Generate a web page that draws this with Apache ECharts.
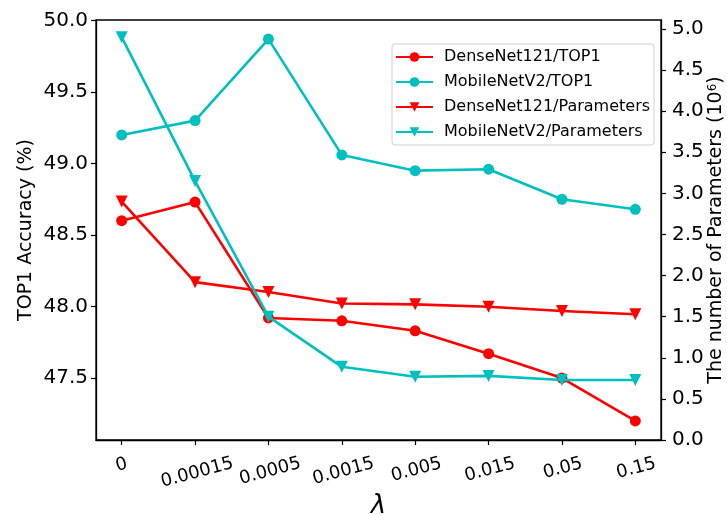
<!DOCTYPE html>
<html>
<head>
<meta charset="utf-8">
<script src="https://cdn.jsdelivr.net/npm/echarts@6/dist/echarts.min.js"></script>
<style>html,body{margin:0;padding:0;background:#fff}#c{width:727px;height:515px}</style>
</head>
<body>
<div id="c"></div>
<script>
const lambdas = ['0', '0.00015', '0.0005', '0.0015', '0.005', '0.015', '0.05', '0.15'];
const denseTop1 = [48.60, 48.73, 47.92, 47.90, 47.83, 47.67, 47.50, 47.20];
const mobileTop1 = [49.20, 49.30, 49.87, 49.06, 48.95, 48.96, 48.75, 48.68];
const denseParams = [2.90, 1.92, 1.80, 1.66, 1.65, 1.62, 1.57, 1.53];
const mobileParams = [4.90, 3.15, 1.50, 0.89, 0.77, 0.78, 0.73, 0.73];
const accTicks = [47.5, 48.0, 48.5, 49.0, 49.5, 50.0];
const paramTicks = [0, 0.5, 1.0, 1.5, 2.0, 2.5, 3.0, 3.5, 4.0, 4.5, 5.0];

const FONT = 'DejaVu Sans';
const RED = '#ff0000', CYAN = '#00bfbf';
const xIdx = lambdas.map((_, i) => i);
const XFS = 18;

// per-label top padding so rotated labels hang from a common top line (like matplotlib)
const cv = document.createElement('canvas').getContext('2d');
cv.font = XFS + 'px "' + FONT + '"';
const widths = lambdas.map(s => cv.measureText(s).width);
const minW = Math.min.apply(null, widths);
const rich = {};
lambdas.forEach((s, i) => {
  rich['l' + i] = {fontFamily: FONT, fontSize: XFS, color: '#000',
    padding: [Math.round((widths[i] - minW) * Math.sin(15 * Math.PI / 180)), 0, 0, 0]};
});

const pair = arr => arr.map((v, i) => [xIdx[i], v]);
const lineSeries = (name, data, color, symbol, yAxisIndex) => ({
  name, type: 'line', data: pair(data), yAxisIndex,
  symbol, symbolSize: symbol === 'circle' ? 11 : 12,
  symbolRotate: symbol === 'triangle' ? 180 : 0,
  lineStyle: {color, width: 2.6}, itemStyle: {color},
  emphasis: {disabled: true}, animation: false, z: yAxisIndex === 1 ? 3 : 2
});

const chart = echarts.init(document.getElementById('c'), null, {renderer: 'canvas'});
chart.setOption({
  animation: false,
  backgroundColor: '#fff',
  grid: {left: 96, right: 66, top: 20, bottom: 75, show: true, borderColor: '#000', borderWidth: 1.3,
    containLabel: false, outerBoundsMode: 'none'},
  legend: {
    orient: 'vertical', left: 392, top: 44,
    padding: [5, 4, 5, 3], itemGap: 9, itemWidth: 37, itemHeight: 12,
    borderColor: '#d0d0d0', borderWidth: 1, borderRadius: 3, backgroundColor: 'rgba(255,255,255,0.8)',
    textStyle: {fontFamily: FONT, fontSize: 16, color: '#000', padding: [0, 0, 0, 6]},
    data: ['DenseNet121/TOP1', 'MobileNetV2/TOP1', 'DenseNet121/Parameters', 'MobileNetV2/Parameters']
  },
  xAxis: {
    type: 'value', min: -0.35, max: 7.35,
    name: 'λ', nameLocation: 'middle', nameGap: 53, nameMoveOverlap: false,
    nameTextStyle: {fontFamily: FONT, fontSize: 26, fontStyle: 'italic', color: '#000'},
    axisLine: {show: true, onZero: false, lineStyle: {color: '#000', width: 1.3}},
    axisTick: {show: true, length: 5, customValues: xIdx, lineStyle: {color: '#000', width: 1.2}},
    axisLabel: {
      customValues: xIdx, rotate: 15, margin: 25, align: 'center', verticalAlign: 'middle',
      fontFamily: FONT, fontSize: XFS, color: '#000',
      formatter: v => { const i = Math.round(v); return '{l' + i + '|' + lambdas[i] + '}'; },
      rich
    },
    splitLine: {show: false}
  },
  yAxis: [{
    type: 'value', position: 'left', min: 47.0665, max: 50.0035,
    name: 'TOP1 Accuracy (%)', nameLocation: 'middle', nameRotate: 90, nameGap: 60, nameMoveOverlap: false,
    nameTextStyle: {fontFamily: FONT, fontSize: 19, color: '#000'},
    axisLine: {show: true, onZero: false, lineStyle: {color: '#000', width: 1.3}},
    axisTick: {show: true, length: 5, customValues: accTicks, lineStyle: {color: '#000', width: 1.2}},
    axisLabel: {customValues: accTicks, margin: 8, fontFamily: FONT, fontSize: 20, color: '#000',
      formatter: v => v.toFixed(1)},
    splitLine: {show: false}
  }, {
    type: 'value', position: 'right', min: 0, max: 5.109,
    name: 'The number of Parameters (10{sup|6})', nameLocation: 'middle', nameRotate: 90, nameGap: 46, nameMoveOverlap: false,
    nameTextStyle: {fontFamily: FONT, fontSize: 19, color: '#000',
      rich: {sup: {fontFamily: FONT, fontSize: 12, color: '#000', verticalAlign: 'top'}}},
    axisLine: {show: true, onZero: false, lineStyle: {color: '#000', width: 1.3}},
    axisTick: {show: true, length: 5, customValues: paramTicks, lineStyle: {color: '#000', width: 1.2}},
    axisLabel: {customValues: paramTicks, margin: 11, fontFamily: FONT, fontSize: 20, color: '#000',
      formatter: v => v.toFixed(1)},
    splitLine: {show: false}
  }],
  series: [
    lineSeries('DenseNet121/TOP1', denseTop1, RED, 'circle', 0),
    lineSeries('MobileNetV2/TOP1', mobileTop1, CYAN, 'circle', 0),
    lineSeries('DenseNet121/Parameters', denseParams, RED, 'triangle', 1),
    lineSeries('MobileNetV2/Parameters', mobileParams, CYAN, 'triangle', 1)
  ]
});
</script>
</body>
</html>
